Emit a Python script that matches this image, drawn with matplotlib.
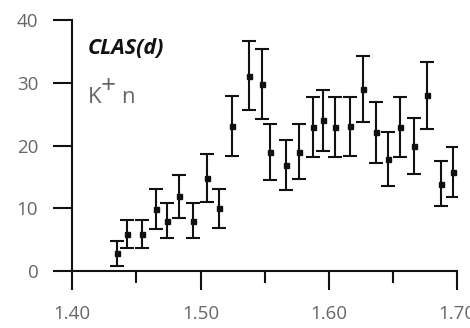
import numpy as np
import matplotlib.pyplot as plt
from matplotlib.ticker import MultipleLocator

# K+n invariant mass spectrum, CLAS deuteron data
mass = [1.4346, 1.4428, 1.4545, 1.4649, 1.4735, 1.4830, 1.4942, 1.5054, 1.5144,
        1.5248, 1.5377, 1.5476, 1.5544, 1.5668, 1.5767, 1.5875, 1.5959, 1.6052,
        1.6167, 1.6265, 1.6369, 1.6459, 1.6556, 1.6667, 1.6766, 1.6875, 1.6970]
counts = [2.8, 5.9, 5.9, 9.9, 8.0, 11.9, 8.0, 14.8, 10.0,
          23.1, 31.1, 29.8, 19.0, 16.9, 19.0, 22.9, 24.0, 22.9,
          23.1, 29.0, 22.1, 17.8, 22.9, 19.9, 28.0, 13.9, 15.8]
errors = [2.0, 2.3, 2.3, 3.2, 2.8, 3.4, 2.8, 3.8, 3.1,
          4.8, 5.5, 5.5, 4.5, 4.0, 4.4, 4.8, 4.8, 4.8,
          4.7, 5.3, 4.9, 4.3, 4.8, 4.45, 5.3, 3.6, 4.0]
xticks = [1.40, 1.50, 1.60, 1.70]
xticklabels = ['1.40', '1.50', '1.60', '1.70']
yticks = [0, 10, 20, 30, 40]

plt.rcParams['font.family'] = ['Open Sans', 'DejaVu Sans']

fig = plt.figure(figsize=(4.70, 3.28), dpi=100)
ax = fig.add_axes([0.1538, 0.1738, 0.9723 - 0.1538, 0.939 - 0.1738])

ax.errorbar(mass, counts, yerr=errors, fmt='s', color='#111111', ms=3.6,
            elinewidth=1.5, capsize=4.8, capthick=1.5)

ax.set_xlim(1.40, 1.70)
ax.set_ylim(0, 40)
ax.set_xticks(xticks)
ax.set_xticklabels(xticklabels)
ax.xaxis.set_minor_locator(MultipleLocator(0.05))
ax.set_yticks(yticks)

for side in ['top', 'right']:
    ax.spines[side].set_visible(False)
for side in ['left', 'bottom']:
    ax.spines[side].set_linewidth(1.5)
    ax.spines[side].set_color('#111111')

ax.tick_params(axis='both', which='major', direction='out', length=13.5,
               width=1.5, color='#111111', labelsize=13.5, labelcolor='#666666',
               pad=11)
ax.tick_params(axis='x', which='minor', direction='out', length=8.4,
               width=1.5, color='#111111')
ax.tick_params(axis='y', which='minor', left=False)

ax.text(1.4118, 34.6, 'CLAS(d)', fontsize=15.5, fontweight='bold',
        fontstyle='italic', color='#111111')
k = ax.text(1.4118, 26.8, 'K', fontsize=16, color='#666666')
ax.annotate('+', xy=(1, 0), xycoords=k, xytext=(-0.5, 6.5),
            textcoords='offset points', fontsize=19, color='#666666',
            va='bottom')
ax.annotate('n', xy=(1, 0), xycoords=k, xytext=(14.5, 0),
            textcoords='offset points', fontsize=16, color='#666666',
            va='bottom')

fig.savefig('out.png', dpi=100)
